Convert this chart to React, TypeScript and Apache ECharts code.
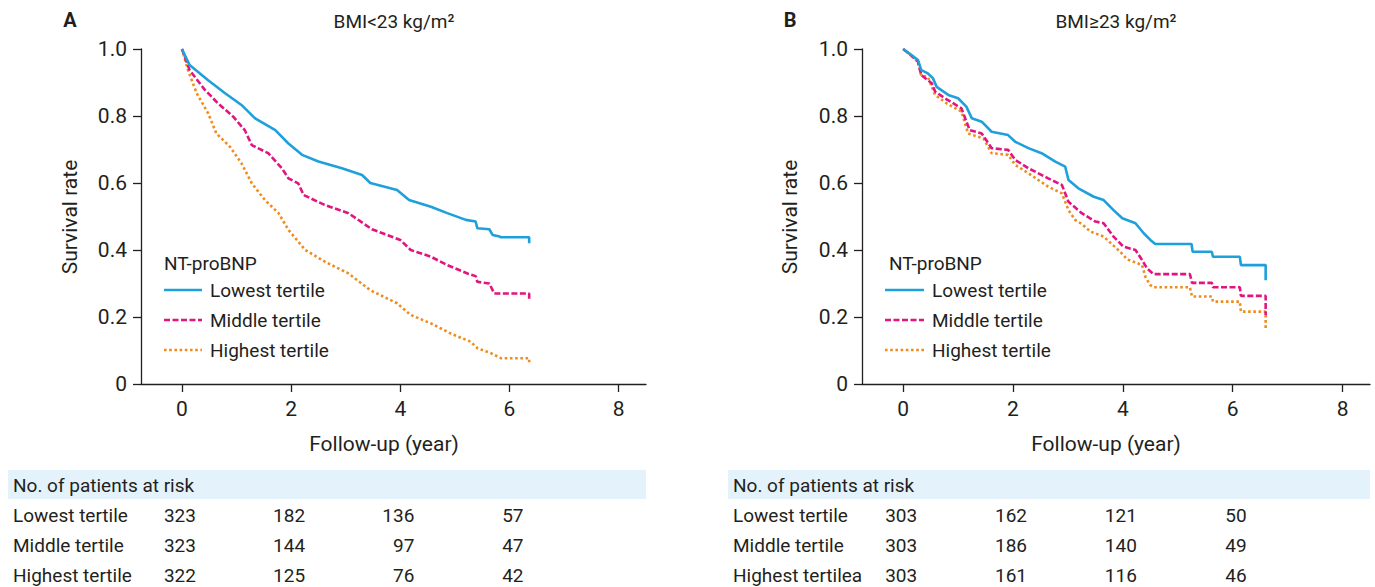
import React, { useEffect, useRef } from "react";
import * as echarts from "echarts";

// ---------- data ----------
const xTicks = [0, 2, 4, 6, 8];
const riskTimes = [0, 2, 4, 6];
const groupNames = ["Lowest tertile", "Middle tertile", "Highest tertile"];
const tableRowsA = ["Lowest tertile", "Middle tertile", "Highest tertile"];
const tableRowsB = ["Lowest tertile", "Middle tertile", "Highest tertilea"];
const riskA = [
  [323, 182, 136, 57],
  [323, 144, 97, 47],
  [322, 125, 76, 42],
];
const riskB = [
  [303, 162, 121, 50],
  [303, 186, 140, 49],
  [303, 161, 116, 46],
];

const lowA: number[][] = [
  [0, 1.0], [0.14, 0.952], [0.48, 0.907], [0.79, 0.868], [1.09, 0.833], [1.34, 0.793],
  [1.71, 0.758], [1.95, 0.718], [2.2, 0.684], [2.5, 0.664], [2.93, 0.644], [3.3, 0.624],
  [3.45, 0.6], [3.94, 0.579], [4.16, 0.549], [4.56, 0.529], [4.86, 0.51], [5.2, 0.49],
  [5.38, 0.485], [5.41, 0.465], [5.63, 0.462], [5.69, 0.445], [5.82, 0.44], [5.84, 0.438],
  [6.36, 0.438], [6.36, 0.42],
];
const midA: number[][] = [
  [0, 1.0], [0.14, 0.937], [0.42, 0.878], [0.66, 0.838], [0.94, 0.798], [1.15, 0.758],
  [1.28, 0.713], [1.58, 0.689], [1.83, 0.644], [1.95, 0.614], [2.13, 0.599], [2.23, 0.564],
  [2.62, 0.534], [3.05, 0.51], [3.48, 0.462], [4.0, 0.43], [4.19, 0.4], [4.56, 0.38],
  [4.86, 0.355], [5.23, 0.33], [5.38, 0.322], [5.41, 0.305], [5.63, 0.3], [5.72, 0.27],
  [6.36, 0.27], [6.36, 0.25],
];
const highA: number[][] = [
  [0, 1.0], [0.11, 0.937], [0.27, 0.868], [0.48, 0.808], [0.63, 0.748], [0.88, 0.708],
  [1.09, 0.659], [1.28, 0.599], [1.52, 0.549], [1.77, 0.51], [1.95, 0.46], [2.26, 0.4],
  [2.62, 0.365], [3.05, 0.33], [3.45, 0.28], [3.94, 0.241], [4.19, 0.206], [4.56, 0.181],
  [4.92, 0.151], [5.29, 0.126], [5.41, 0.107], [5.66, 0.092], [5.84, 0.077], [6.36, 0.077],
  [6.36, 0.057],
];

const lowB: number[][] = [
  [0, 1.0], [0.15, 0.982], [0.27, 0.967], [0.33, 0.937], [0.45, 0.927], [0.54, 0.913],
  [0.61, 0.887], [0.82, 0.863], [1.0, 0.853], [1.15, 0.828], [1.25, 0.793], [1.43, 0.783],
  [1.61, 0.753], [1.91, 0.743], [2.04, 0.723], [2.28, 0.704], [2.52, 0.689], [2.77, 0.664],
  [2.95, 0.649], [3.01, 0.609], [3.19, 0.584], [3.47, 0.559], [3.65, 0.549], [3.83, 0.519],
  [3.99, 0.495], [4.23, 0.48], [4.38, 0.45], [4.5, 0.43], [4.59, 0.418], [5.25, 0.418],
  [5.27, 0.395], [5.62, 0.395], [5.64, 0.38], [6.13, 0.38], [6.15, 0.355], [6.6, 0.355],
  [6.6, 0.31],
];
const midB: number[][] = [
  [0, 1.0], [0.15, 0.98], [0.27, 0.962], [0.33, 0.922], [0.52, 0.898], [0.58, 0.873],
  [0.76, 0.853], [1.06, 0.823], [1.21, 0.758], [1.43, 0.748], [1.61, 0.704], [1.91, 0.699],
  [2.04, 0.669], [2.28, 0.644], [2.64, 0.614], [2.89, 0.594], [3.01, 0.544], [3.25, 0.51],
  [3.5, 0.485], [3.65, 0.48], [3.83, 0.44], [4.01, 0.41], [4.23, 0.4], [4.35, 0.37],
  [4.44, 0.345], [4.56, 0.328], [5.22, 0.328], [5.26, 0.302], [5.62, 0.302], [5.64, 0.289],
  [6.13, 0.289], [6.15, 0.263], [6.6, 0.263], [6.6, 0.206],
];
const highB: number[][] = [
  [0, 1.0], [0.15, 0.98], [0.27, 0.962], [0.33, 0.92], [0.45, 0.917], [0.58, 0.863],
  [0.79, 0.838], [1.06, 0.813], [1.18, 0.748], [1.46, 0.733], [1.61, 0.689], [1.91, 0.684],
  [2.04, 0.654], [2.28, 0.629], [2.64, 0.589], [2.89, 0.569], [3.01, 0.519], [3.13, 0.49],
  [3.25, 0.478], [3.41, 0.455], [3.65, 0.44], [3.95, 0.395], [4.08, 0.372], [4.35, 0.355],
  [4.41, 0.32], [4.5, 0.295], [4.56, 0.289], [5.22, 0.289], [5.26, 0.261], [5.62, 0.261],
  [5.64, 0.246], [6.13, 0.246], [6.15, 0.216], [6.6, 0.216], [6.6, 0.161],
];

// ---------- styling ----------
const FONT = "Roboto, 'Noto Sans', sans-serif";
const TXT = "#231f20";
const AX = "#231f20";
const BLUE = "#1ea0dc";
const MAGENTA = "#e2157f";
const ORANGE = "#f08c1e";
const X_MIN = -0.75;
const X_MAX = 8.5;

const GA = { left: 141, top: 49, width: 505, height: 335 };
const GB = { left: 862, top: 49, width: 508, height: 335 };

const lineStyles = [
  { color: BLUE, width: 2.6, type: "solid" as any },
  { color: MAGENTA, width: 2.6, type: [6, 2.5] as any },
  { color: ORANGE, width: 2.6, type: [2.6, 2.6] as any },
];

function px(g: typeof GA, t: number) {
  return g.left + ((t - X_MIN) / (X_MAX - X_MIN)) * g.width;
}

function makeAxes(gi: number) {
  const x = {
    type: "value",
    gridIndex: gi,
    min: X_MIN,
    max: X_MAX,
    axisLine: { show: true, onZero: false, lineStyle: { color: AX, width: 1.3 } },
    axisTick: { show: true, customValues: xTicks, length: 8, lineStyle: { color: AX, width: 1.3 } },
    axisLabel: { customValues: xTicks, fontSize: 21, color: TXT, fontFamily: FONT, margin: 14 },
    splitLine: { show: false },
  };
  const y = {
    type: "value",
    gridIndex: gi,
    min: 0,
    max: 1,
    interval: 0.2,
    axisLine: { show: true, onZero: false, lineStyle: { color: AX, width: 1.3 } },
    axisTick: { show: true, length: 8, lineStyle: { color: AX, width: 1.3 } },
    axisLabel: {
      fontSize: 21,
      color: TXT,
      fontFamily: FONT,
      margin: 14,
      formatter: (v: number) => (v === 0 ? "0" : v.toFixed(1)),
    },
    splitLine: { show: false },
  };
  return { x, y };
}

function legendGraphics(titleX: number, sampleX: number, sampleW: number, textX: number) {
  const els: any[] = [
    {
      type: "text",
      x: titleX,
      y: 263,
      style: { text: "NT-proBNP", fontSize: 19, fontFamily: FONT, fill: TXT, align: "left", verticalAlign: "middle" },
    },
  ];
  const ys = [290, 320, 350];
  groupNames.forEach((name, i) => {
    const ls = lineStyles[i];
    els.push({
      type: "line",
      shape: { x1: sampleX, y1: ys[i], x2: sampleX + sampleW, y2: ys[i] },
      style: {
        stroke: ls.color,
        lineWidth: ls.width,
        lineDash: Array.isArray(ls.type) ? ls.type : null,
      },
    });
    els.push({
      type: "text",
      x: textX,
      y: ys[i],
      style: { text: name, fontSize: 19, fontFamily: FONT, fill: TXT, align: "left", verticalAlign: "middle" },
    });
  });
  return els;
}

function tableGraphics(g: typeof GA, bandX: number, bandW: number, labelX: number, rows: string[], risk: number[][]) {
  const els: any[] = [
    { type: "rect", shape: { x: bandX, y: 470, width: bandW, height: 29 }, style: { fill: "#e4f3fb" }, z: -1 },
    {
      type: "text",
      x: labelX,
      y: 485,
      style: { text: "No. of patients at risk", fontSize: 19, fontFamily: FONT, fill: TXT, align: "left", verticalAlign: "middle" },
    },
  ];
  const ys = [515, 545, 575];
  rows.forEach((r, i) => {
    els.push({
      type: "text",
      x: labelX,
      y: ys[i],
      style: { text: r, fontSize: 19, fontFamily: FONT, fill: TXT, align: "left", verticalAlign: "middle" },
    });
    riskTimes.forEach((t, j) => {
      els.push({
        type: "text",
        x: px(g, t) + 14,
        y: ys[i],
        style: { text: String(risk[i][j]), fontSize: 19, fontFamily: FONT, fill: TXT, align: "right", verticalAlign: "middle" },
      });
    });
  });
  return els;
}

function textEl(text: string, x: number, y: number, size: number, extra: any = {}) {
  return {
    type: "text",
    x,
    y,
    ...extra,
    style: { text, fontSize: size, fontFamily: FONT, fill: TXT, align: "center", verticalAlign: "middle", ...(extra.style || {}) },
  };
}

export default function App() {
  const ref = useRef<HTMLDivElement>(null);
  useEffect(() => {
    const chart = echarts.init(ref.current!, null, { renderer: "svg" });
    const a = makeAxes(0);
    const b = makeAxes(1);
    const seriesFor = (gi: number, sets: number[][][]) =>
      [2, 1, 0].map((i) => ({
        type: "line",
        name: groupNames[i],
        xAxisIndex: gi,
        yAxisIndex: gi,
        data: sets[i],
        showSymbol: false,
        symbol: "none",
        silent: true,
        lineStyle: { ...lineStyles[i], cap: "butt" },
      }));
    const option: any = {
      animation: false,
      backgroundColor: "#ffffff",
      grid: [
        { ...GA, containLabel: false },
        { ...GB, containLabel: false },
      ],
      xAxis: [a.x, b.x],
      yAxis: [a.y, b.y],
      series: [...seriesFor(0, [lowA, midA, highA]), ...seriesFor(1, [lowB, midB, highB])],
      graphic: [
        textEl("A", 70, 20, 20, { style: { fontWeight: "bold" } }),
        textEl("B", 790, 20, 20, { style: { fontWeight: "bold" } }),
        textEl("BMI<23 kg/m²", 394, 21, 19),
        textEl("BMI≥23 kg/m²", 1116, 21, 19),
        textEl("Survival rate", 70, 217, 21, { rotation: Math.PI / 2 }),
        textEl("Survival rate", 790, 217, 21, { rotation: Math.PI / 2 }),
        textEl("Follow-up (year)", 384, 444, 21),
        textEl("Follow-up (year)", 1106, 444, 21),
        ...legendGraphics(164, 164, 38, 210),
        ...legendGraphics(889, 885, 39, 932),
        ...tableGraphics(GA, 8, 638, 13, tableRowsA, riskA),
        ...tableGraphics(GB, 728, 642, 733, tableRowsB, riskB),
      ],
    };
    chart.setOption(option);
    return () => chart.dispose();
  }, []);
  return <div ref={ref} style={{ position: "absolute", left: 0, top: 0, width: 1375, height: 587 }} />;
}
